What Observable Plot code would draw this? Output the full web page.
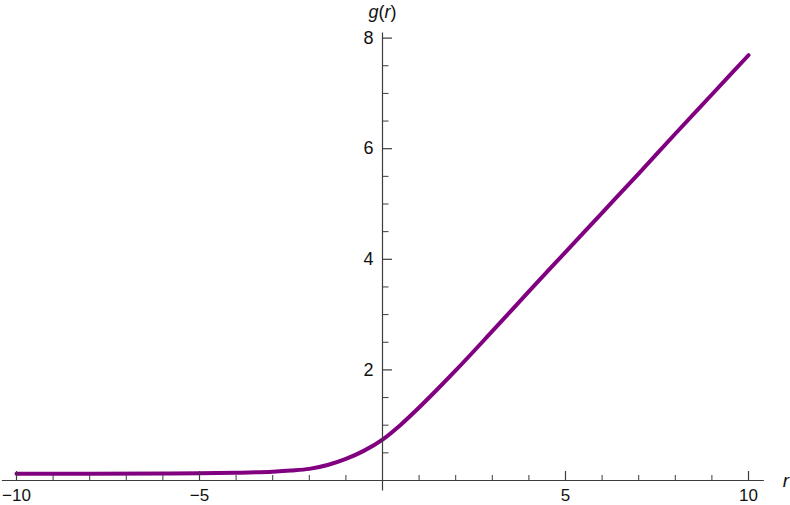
<!DOCTYPE html>
<html>
<head>
<meta charset="utf-8">
<script src="https://cdn.jsdelivr.net/npm/d3@7"></script>
<script src="https://cdn.jsdelivr.net/npm/@observablehq/plot@0.6"></script>
<style>
  html, body { margin: 0; padding: 0; background: white; }
  svg { display: block; overflow: visible; }
</style>
</head>
<body>
<div id="chart"></div>
<script>
// Curve values
const rValues = [-10, -8, -6, -5, -4, -3, -2.5, -2, -1.5, -1, -0.5, 0, 0.5, 1, 1.5, 2, 3, 4, 5, 6, 7, 8, 9, 10];
const gValues = [0.12, 0.12, 0.125, 0.13, 0.14, 0.16, 0.18, 0.21, 0.28, 0.39, 0.54, 0.74, 1.01, 1.32, 1.65, 1.99, 2.70, 3.42, 4.13, 4.84, 5.55, 6.27, 6.98, 7.69];

// Axis ticks and labels
const xMajorTicks = [-10, -5, 5, 10];
const xMajorLabels = ["\u221210", "\u22125", "5", "10"];
const xMinorTicks = [-9, -8, -7, -6, -4, -3, -2, -1, 1, 2, 3, 4, 6, 7, 8, 9];
const yMajorTicks = [2, 4, 6, 8];
const yMajorLabels = ["2", "4", "6", "8"];
const yMinorTicks = [0.5, 1, 1.5, 2.5, 3, 3.5, 4.5, 5, 5.5, 6.5, 7, 7.5];

const curve = rValues.map((r, i) => ({r, g: gValues[i]}));

const axisColor = "#3c3c3c";
// tick lengths in data units (x: 36.55 px/unit, y: 55.3 px/unit)
const xTickMajor = 9.5 / 55.3, xTickMinor = 5.5 / 55.3;
const yTickMajor = 9.5 / 36.55, yTickMinor = 6 / 36.55;

const chart = Plot.plot({
  width: 790,
  height: 505,
  marginLeft: 16,
  marginRight: 42,
  marginTop: 37.6,
  marginBottom: 25,
  x: {domain: [-10, 10], axis: null},
  y: {domain: [0, 8], axis: null},
  style: {fontFamily: "'Liberation Sans', Arial, sans-serif", background: "white", overflow: "visible"},
  marks: [
    Plot.line(curve, {x: "r", y: "g", stroke: "#800080", strokeWidth: 4, curve: "monotone-x"}),
    // x axis line
    Plot.link([0], {x1: -10.4, x2: 10.42, y1: 0, y2: 0, stroke: axisColor, strokeWidth: 1.2}),
    // y axis line
    Plot.link([0], {x1: 0, x2: 0, y1: -0.18, y2: 8.1, stroke: axisColor, strokeWidth: 1.2}),
    // x ticks
    Plot.link(xMajorTicks, {x1: d => d, x2: d => d, y1: 0, y2: xTickMajor, stroke: axisColor, strokeWidth: 1.2}),
    Plot.link(xMinorTicks, {x1: d => d, x2: d => d, y1: 0, y2: xTickMinor, stroke: axisColor, strokeWidth: 1}),
    // y ticks
    Plot.link(yMajorTicks, {x1: 0, x2: yTickMajor, y1: d => d, y2: d => d, stroke: axisColor, strokeWidth: 1.2}),
    Plot.link(yMinorTicks, {x1: 0, x2: yTickMinor, y1: d => d, y2: d => d, stroke: axisColor, strokeWidth: 1}),
    // tick labels
    Plot.text(xMajorTicks, {x: d => d, y: 0, text: (d, i) => xMajorLabels[i], dy: 15, fontSize: 17, fill: "#111"}),
    Plot.text(yMajorTicks, {x: 0, y: d => d, text: (d, i) => yMajorLabels[i], dx: -9, textAnchor: "end", fontSize: 18, fill: "#111"}),
    // axis titles
    Plot.text(["r"], {x: 10.42, y: 0, text: d => d, dx: 22, textAnchor: "middle", fontSize: 19, fontStyle: "italic", fill: "#111"}),
    Plot.text(["g(r)"], {x: 0, y: 8.1, text: () => "g(r)", dy: -20, textAnchor: "middle", fontSize: 18, fill: "#111"})
  ]
});

// italicize the letters in g(r)
chart.querySelectorAll("text").forEach(t => {
  if (t.textContent === "g(r)") {
    t.textContent = "";
    const parts = [["g", true], ["(", false], ["r", true], [")", false]];
    for (const [s, it] of parts) {
      const ts = document.createElementNS("http://www.w3.org/2000/svg", "tspan");
      ts.textContent = s;
      if (it) ts.setAttribute("font-style", "italic");
      t.appendChild(ts);
    }
  }
});

document.getElementById("chart").appendChild(chart);
</script>
</body>
</html>
